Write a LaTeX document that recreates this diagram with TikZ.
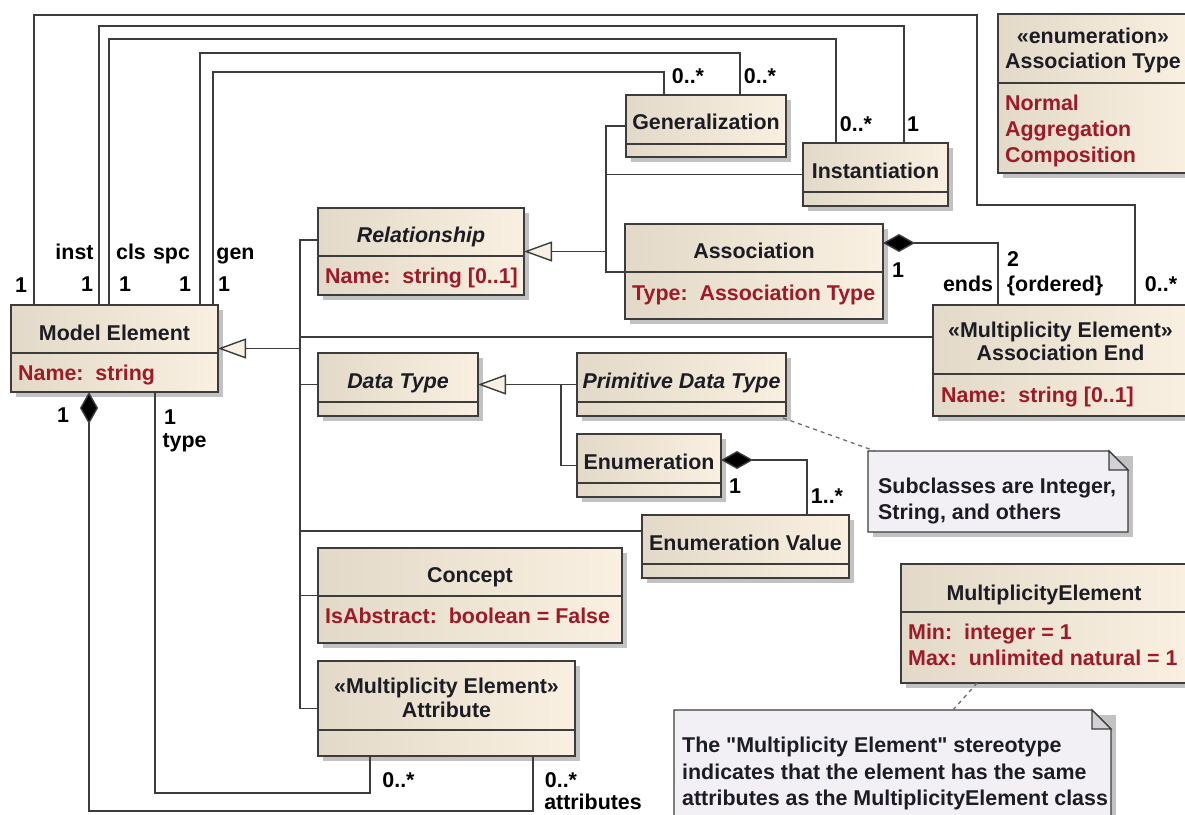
\documentclass[tikz,border=0pt]{standalone}
\usepackage{fontspec}
\setmainfont{Liberation Sans}[Ligatures=ResetAll]
\usetikzlibrary{arrows.meta,calc}

\definecolor{boxL}{HTML}{E3D9C8}
\definecolor{boxR}{HTML}{FAF0E1}
\definecolor{edge}{HTML}{3C3C3C}
\definecolor{attrred}{HTML}{9E1A26}
\definecolor{ink}{HTML}{1C1C24}
\definecolor{shadowgray}{HTML}{C2C2C2}
\definecolor{notefill}{HTML}{F2EFF5}
\definecolor{foldfill}{HTML}{D3D1D6}
\definecolor{trifill}{HTML}{F8F1E3}

% straight double quote glyph, set directly
\newcommand\dq{\XeTeXglyph\XeTeXcharglyph"22\relax}

\tikzset{
  txt/.style={font=\fontsize{21.4}{26}\selectfont\bfseries, inner sep=0pt, text=ink},
  ttl/.style={txt, anchor=base},
  ttli/.style={ttl, font=\fontsize{21.4}{26}\selectfont\bfseries\itshape},
  att/.style={txt, anchor=base west, text=attrred},
  notetxt/.style={txt, anchor=base west},
  lbl/.style={txt, anchor=base, text=black},
  classbox/.style={draw=edge, line width=1.4pt, left color=boxL, right color=boxR,
                   inner sep=0pt, outer sep=0pt, anchor=north west},
  divider/.style={draw=edge, line width=1.4pt},
  wire/.style={draw=edge, line width=1.4pt},
  genarrow/.style={wire, -{Triangle[length=28pt,width=20pt,fill=trifill]}},
  comparrow/.style={wire, {Diamond[length=32pt,width=18pt,fill=black]}-},
  notebox/.style={draw=edge, line width=1.4pt, fill=notefill},
  notelink/.style={draw=gray!85!black, line width=1.3pt, dash pattern=on 4pt off 4pt},
}

% class box: name, x, y, width, height, divider offset
\newcommand\umlbox[6]{%
  \fill[shadowgray] (#2+5,#3+5) rectangle ++(#4,#5);
  \node[classbox, minimum width=#4pt, minimum height=#5pt] (#1) at (#2,#3) {};
  \draw[divider] ([yshift=-#6pt]#1.north west) -- ([yshift=-#6pt]#1.north east);
}
% note with folded corner: name, x, y, width, height
\newcommand\umlnote[5]{%
  \fill[shadowgray] (#2+5,#3+5) rectangle ++(#4,#5);
  \node[inner sep=0pt, outer sep=0pt, minimum width=#4pt, minimum height=#5pt, anchor=north west] (#1) at (#2,#3) {};
  \filldraw[notebox] (#1.north west) -- ([xshift=-19pt]#1.north east) -- ([yshift=-19pt]#1.north east)
     -- (#1.south east) -- (#1.south west) -- cycle;
  \filldraw[draw=edge, line width=1.2pt, fill=foldfill] ([xshift=-19pt]#1.north east)
     -- ([xshift=-19pt,yshift=-19pt]#1.north east) -- ([yshift=-19pt]#1.north east) -- cycle;
}

\begin{document}
\begin{tikzpicture}[x=1pt,y=-1pt]
\useasboundingbox (0,0) rectangle (1185,814);
\clip (0,0) rectangle (1185,814);
\fill[white] (0,0) rectangle (1185,814);

% ---------- classes ----------
\umlbox{me}{11}{305}{207}{87}{48}
\node[ttl] (me-t) at (114.5,340) {Model Element};
\node[att] (me-a) at (18,380) {Name:\ \ string};

\umlbox{rel}{318}{208}{206}{87}{48}
\node[ttli] (rel-t) at (421,242) {Relationship};
\node[att] (rel-a) at (325,283) {Name:\ \ string [0..1]};

\umlbox{gen}{626}{95}{160}{62}{49}
\node[ttl] (gen-t) at (706,129) {Generalization};

\umlbox{inst}{803}{143}{145}{63}{49}
\node[ttl] (inst-t) at (875.5,178) {Instantiation};

\umlbox{assoc}{625}{224}{258}{95}{48}
\node[ttl] (assoc-t) at (754,258) {Association};
\node[att] (assoc-a) at (632,300) {Type:\ \ Association Type};

\umlbox{atype}{998}{14}{190}{159}{69}
\node[ttl] (atype-s) at (1093,43) {«enumeration»};
\node[ttl] (atype-t) at (1093,68) {Association Type};
\node[att] (atype-a1) at (1005,110) {Normal};
\node[att] (atype-a2) at (1005,136) {Aggregation};
\node[att] (atype-a3) at (1005,162) {Composition};

\umlbox{ae}{933}{305}{255}{111}{69}
\node[ttl] (ae-s) at (1060.5,337) {«Multiplicity Element»};
\node[ttl] (ae-t) at (1060.5,360) {Association End};
\node[att] (ae-a) at (941,402) {Name:\ \ string [0..1]};

\umlbox{dt}{318}{353}{160}{63}{49}
\node[ttli] (dt-t) at (398,388) {Data Type};

\umlbox{pdt}{577}{353}{209}{63}{49}
\node[ttli] (pdt-t) at (681.5,388) {Primitive Data Type};

\umlbox{enum}{577}{434}{144}{63}{49}
\node[ttl] (enum-t) at (649,469) {Enumeration};

\umlbox{ev}{642}{515}{207}{63}{49}
\node[ttl] (ev-t) at (745.5,550) {Enumeration Value};

\umlbox{con}{318}{548}{304}{95}{48}
\node[ttl] (con-t) at (470,582) {Concept};
\node[att] (con-a) at (325,623) {IsAbstract:\ \ boolean = False};

\umlbox{attr}{318}{661}{257}{95}{69}
\node[ttl] (attr-s) at (446.5,693) {«Multiplicity Element»};
\node[ttl] (attr-t) at (446.5,717) {Attribute};

\umlbox{mel}{901}{564}{287}{119}{48}
\node[ttl] (mel-t) at (1044,600) {MultiplicityElement};
\node[att] (mel-a1) at (908,639) {Min:\ \ integer = 1};
\node[att] (mel-a2) at (908,665) {Max:\ \ unlimited natural = 1};

% ---------- notes ----------
\umlnote{note1}{868}{451}{260}{81}
\node[notetxt] (note1-l1) at (878,493) {Subclasses are Integer,};
\node[notetxt] (note1-l2) at (878,519) {String, and others};

\umlnote{note2}{674}{710}{437}{120}
\node[notetxt] (note2-l1) at (682,752) {The \dq Multiplicity Element\dq\ stereotype};
\node[notetxt] (note2-l2) at (682,779) {indicates that the element has the same};
\node[notetxt] (note2-l3) at (682,805) {attributes as the MultiplicityElement class};

\draw[notelink] ([xshift=-3pt,yshift=-2pt]pdt.south east) -- ([xshift=7pt]note1.north west);
\draw[notelink] ([xshift=76pt]mel.south west) -- ([xshift=279pt]note2.north west);

% ---------- generalization trees ----------
\coordinate (t1) at (300,348.5);
\draw[genarrow] (t1) -- (me.east);
\draw[wire] (t1) |- ([yshift=-32pt]rel.north west);
\draw[wire] (t1) |- ([yshift=-32pt]ae.north west);
\draw[wire] (t1) |- (dt.west);
\draw[wire] (t1) |- ([yshift=-16pt]ev.north west);
\draw[wire] (t1) |- (con.west);
\draw[wire] (t1) |- (attr.west);

\coordinate (t2) at (606,251.5);
\draw[genarrow] (t2) -- (rel.east);
\draw[wire] (t2) |- (gen.west);
\draw[wire] (t2) |- (inst.west);
\draw[wire] (t2) |- ([yshift=-48pt]assoc.north west);

\coordinate (t3) at (561,384.5);
\draw[genarrow] (t3) -- (dt.east);
\draw[wire] (t3) |- (pdt.west);
\draw[wire] (t3) |- (enum.west);

% ---------- associations ----------
\coordinate (b1a) at (977,15);
\coordinate (b1b) at (977,205);
\draw[wire] ([xshift=23pt]me.north west) |- (b1a) -- (b1b) -| ([xshift=202pt]ae.north west);
\coordinate (b2) at (500,26);
\draw[wire] ([xshift=88pt]me.north west) |- (b2) -| ([xshift=101pt]inst.north west);
\coordinate (b3) at (500,39);
\draw[wire] ([xshift=98pt]me.north west) |- (b3) -| ([xshift=33pt]inst.north west);
\coordinate (b4) at (500,53);
\draw[wire] ([xshift=189pt]me.north west) |- (b4) -| ([xshift=114pt]gen.north west);
\coordinate (b5) at (500,72);
\draw[wire] ([xshift=202pt]me.north west) |- (b5) -| ([xshift=38pt]gen.north west);

\coordinate (b6) at (300,811);
\draw[comparrow] ([xshift=78pt]me.south west) |- (b6) -| ([xshift=215pt]attr.south west);
\coordinate (b7) at (300,793);
\draw[wire] ([xshift=144pt]me.south west) |- (b7) -| ([xshift=52pt]attr.south west);

\draw[comparrow] ([yshift=-19pt]assoc.north east) -| ([xshift=65pt]ae.north west);
\draw[comparrow] ([yshift=-26pt]enum.north east) -| ([xshift=165pt]ev.north west);

% ---------- end labels ----------
\node[lbl] (l1) at (21,292) {1};
\node[lbl] (l2) at (74.5,259) {inst};
\node[lbl] (l3) at (87,291) {1};
\node[lbl] (l4) at (131,259) {cls};
\node[lbl] (l5) at (125,291) {1};
\node[lbl] (l6) at (171.5,259) {spc};
\node[lbl] (l7) at (185,291) {1};
\node[lbl] (l8) at (235.5,259) {gen};
\node[lbl] (l9) at (224,291) {1};
\node[lbl] (l10) at (688,83) {0..*};
\node[lbl] (l11) at (760,83) {0..*};
\node[lbl] (l12) at (856,131) {0..*};
\node[lbl] (l13) at (913,131) {1};
\node[lbl] (l14) at (898,277) {1};
\node[lbl] (l15) at (1013,266) {2};
\node[lbl] (l16) at (968,291) {ends};
\node[lbl] (l17) at (1055,291) {\{ordered\}};
\node[lbl] (l18) at (1161,291) {0..*};
\node[lbl] (l19) at (63,422) {1};
\node[lbl] (l20) at (170,424) {1};
\node[lbl] (l21) at (184.5,447) {type};
\node[lbl] (l22) at (735,493) {1};
\node[lbl] (l23) at (827,503) {1..*};
\node[lbl] (l24) at (398.5,787) {0..*};
\node[lbl] (l25) at (561,787) {0..*};
\node[lbl] (l26) at (593,809) {attributes};
\end{tikzpicture}
\end{document}
